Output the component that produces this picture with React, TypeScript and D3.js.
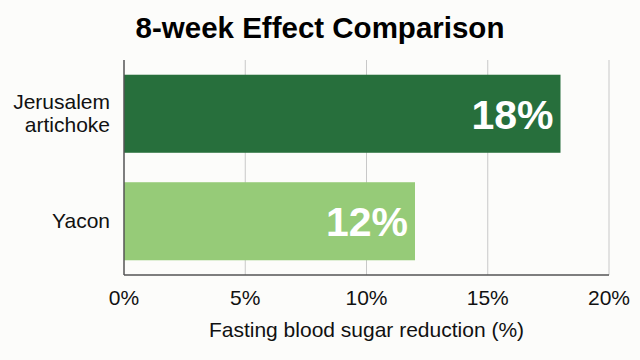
import React, { useEffect, useRef } from 'react';
import * as d3 from 'd3';

// Data
const categories = ['Jerusalem artichoke', 'Yacon'];
const categoryLines = [['Jerusalem', 'artichoke'], ['Yacon']];
const values = [18, 12];
const barColors = ['#276f3c', '#96cb78'];
const xTicks = [0, 5, 10, 15, 20];

const App = () => {
  const chartRef = useRef<HTMLDivElement>(null);

  useEffect(() => {
    const W = 640;
    const H = 360;
    const margin = { top: 60, right: 31, bottom: 85, left: 124 };
    const width = W - margin.left - margin.right;
    const height = H - margin.top - margin.bottom;
    const font = '"Liberation Sans", Arial, Helvetica, sans-serif';

    d3.select(chartRef.current).select('svg').remove();

    const root = d3.select(chartRef.current)
      .append('svg')
      .attr('width', W)
      .attr('height', H)
      .style('position', 'absolute')
      .style('left', '0px')
      .style('top', '0px')
      .style('font-family', font);

    root.append('rect')
      .attr('width', W)
      .attr('height', H)
      .attr('fill', '#fcfcfa');

    const svg = root.append('g')
      .attr('transform', `translate(${margin.left},${margin.top})`);

    // Scales
    const x = d3.scaleLinear().domain([0, 20]).range([0, width]);
    const y = d3.scaleBand()
      .domain(categories)
      .range([0, height])
      .paddingInner(0.274)
      .paddingOuter(0.137);

    // Grid lines
    svg.append('g')
      .selectAll('line')
      .data(xTicks.filter(t => t > 0))
      .enter()
      .append('line')
      .attr('x1', d => x(d))
      .attr('x2', d => x(d))
      .attr('y1', 0)
      .attr('y2', height)
      .attr('stroke', '#c8c8c8')
      .attr('stroke-width', 1);

    // Bars
    svg.selectAll('.bar')
      .data(values)
      .enter()
      .append('rect')
      .attr('x', 0)
      .attr('y', (d, i) => y(categories[i])!)
      .attr('width', d => x(d))
      .attr('height', y.bandwidth())
      .attr('fill', (d, i) => barColors[i]);

    // Value labels
    svg.selectAll('.val')
      .data(values)
      .enter()
      .append('text')
      .attr('x', d => x(d) - 7)
      .attr('y', (d, i) => y(categories[i])! + y.bandwidth() / 2)
      .attr('dy', '0.36em')
      .attr('text-anchor', 'end')
      .attr('fill', 'white')
      .attr('font-weight', 'bold')
      .attr('font-size', '41px')
      .text(d => `${d}%`);

    // Axis lines
    svg.append('line')
      .attr('x1', 0).attr('x2', 0)
      .attr('y1', 0).attr('y2', height)
      .attr('stroke', '#555')
      .attr('stroke-width', 1.5);
    svg.append('line')
      .attr('x1', 0).attr('x2', width)
      .attr('y1', height).attr('y2', height)
      .attr('stroke', '#555')
      .attr('stroke-width', 1.5);

    // X tick labels
    svg.append('g')
      .selectAll('text')
      .data(xTicks)
      .enter()
      .append('text')
      .attr('x', d => x(d))
      .attr('y', height + 30)
      .attr('text-anchor', 'middle')
      .attr('fill', '#111')
      .attr('font-size', '21px')
      .text(d => `${d}%`);

    // Y category labels
    const labels = svg.append('g')
      .selectAll('text')
      .data(categories)
      .enter()
      .append('text')
      .attr('x', -14)
      .attr('y', d => y(d)! + y.bandwidth() / 2)
      .attr('text-anchor', 'end')
      .attr('fill', '#111')
      .attr('font-size', '21px');

    labels.each(function (d, i) {
      const lines = categoryLines[i];
      const lh = 23;
      lines.forEach((ln, j) => {
        d3.select(this)
          .append('tspan')
          .attr('x', -14)
          .attr('dy', j === 0 ? `${(-(lines.length - 1) * lh) / 2 + 7}px` : `${lh}px`)
          .text(ln);
      });
    });

    // Title
    root.append('text')
      .attr('x', W / 2)
      .attr('y', 38)
      .attr('text-anchor', 'middle')
      .attr('fill', '#000')
      .attr('font-weight', 'bold')
      .attr('font-size', '29.5px')
      .text('8-week Effect Comparison');

    // X axis label
    svg.append('text')
      .attr('x', width / 2)
      .attr('y', height + 62)
      .attr('text-anchor', 'middle')
      .attr('fill', '#111')
      .attr('font-size', '21px')
      .text('Fasting blood sugar reduction (%)');
  }, []);

  return <div ref={chartRef}></div>;
};

export default App;
